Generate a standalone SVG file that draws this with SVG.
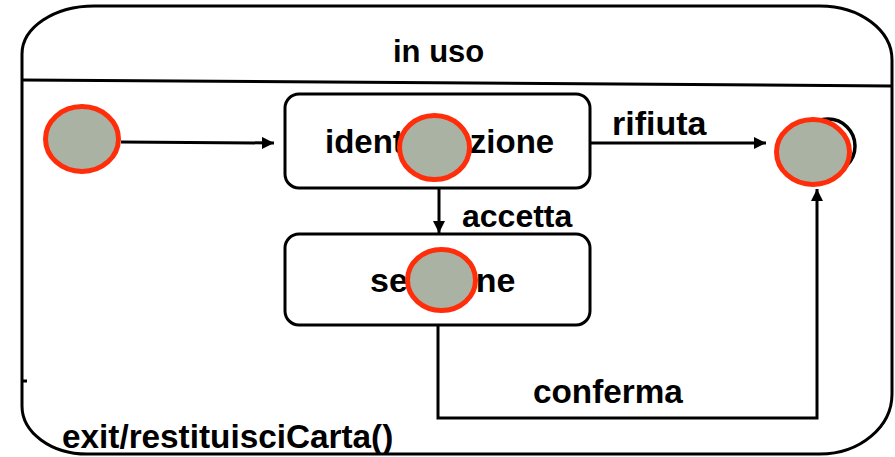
<svg xmlns="http://www.w3.org/2000/svg" width="895" height="457" viewBox="0 0 895 457">
<defs>
<style>
.ln{fill:none;stroke:#000;stroke-width:3}
.box{fill:#fff;stroke:#000;stroke-width:3}
.t{font-family:"Liberation Sans",Arial,sans-serif;font-weight:bold;fill:#000}
.mask{fill:#aab3a3;stroke:#ff2d0a;stroke-width:5}
</style>
<marker id="ah" viewBox="0 0 12 12" refX="12" refY="6" markerWidth="12" markerHeight="12" markerUnits="userSpaceOnUse" orient="auto">
<path d="M0,0 L12,6 L0,12 Z" fill="#000"/>
</marker>
</defs>
<rect width="895" height="457" fill="#fff"/>
<g id="composite-in-uso">
<path class="ln" d="M94 6 H820 A72 54 0 0 1 892 60 V394 A72 60 0 0 1 820 454 H87 A65 48 0 0 1 22 406 V54 A72 48 0 0 1 94 6 Z"/>
<line class="ln" x1="22" y1="80" x2="892" y2="86"/>
<line class="ln" x1="22" y1="381" x2="27" y2="381"/>
<text class="t" x="393" y="62" font-size="31">in uso</text>
<text class="t" x="62" y="448" font-size="33.3">exit/restituisciCarta()</text>
</g>
<g id="connectors">
<line class="ln" x1="121" y1="142" x2="274" y2="143" marker-end="url(#ah)"/>
<line class="ln" x1="439" y1="188" x2="439" y2="233" marker-end="url(#ah)"/>
<line class="ln" x1="590" y1="143" x2="766" y2="143" marker-end="url(#ah)"/>
<path class="ln" d="M438 325 V418 H817 V189" marker-end="url(#ah)"/>
<text class="t" x="612" y="135" font-size="34">rifiuta</text>
<text class="t" x="462" y="227" font-size="32">accetta</text>
<text class="t" x="533" y="403" font-size="33.3">conferma</text>
</g>
<g id="initial">
<ellipse class="mask" cx="82" cy="139" rx="36.5" ry="32.5"/>
</g>
<g id="identificazione">
<rect class="box" x="285" y="94" width="305" height="94" rx="14"/>
<text class="t" x="325" y="153" font-size="33">identificazione</text>
<ellipse class="mask" cx="434.5" cy="147.5" rx="35" ry="32"/>
</g>
<g id="sessione">
<rect class="box" x="285" y="234" width="305" height="91" rx="14"/>
<text class="t" x="370" y="292" font-size="34">sessione</text>
<ellipse class="mask" cx="441.5" cy="280" rx="34" ry="30.5"/>
</g>
<g id="final">
<circle cx="828" cy="146" r="27" fill="none" stroke="#000" stroke-width="3.5"/>
<ellipse class="mask" cx="813" cy="152" rx="36.5" ry="32.5"/>
</g>
</svg>
